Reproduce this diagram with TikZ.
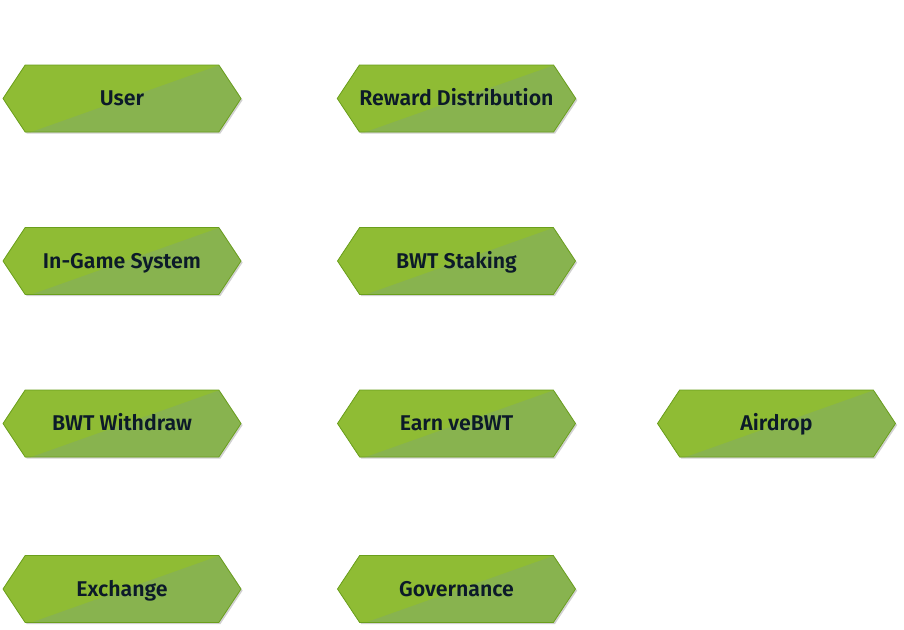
\documentclass[tikz,border=0pt]{standalone}
\usepackage{fontspec}
\setmainfont{Fira Sans}[BoldFont={Fira Sans SemiBold}]
\usetikzlibrary{shapes.symbols,shadows,calc}
\definecolor{hexA}{HTML}{8FBC34}
\definecolor{hexB}{HTML}{88B34F}
\definecolor{hexEdge}{HTML}{6A9F1C}
\definecolor{hexText}{HTML}{0C1A29}
\tikzset{
  hexbox/.style={
    shape=signal, signal to=west and east, signal pointer angle=113,
    minimum width=178.5pt, minimum height=50.25pt, inner sep=0pt,
    text height=12pt, text depth=1.5pt,
    draw=hexEdge, line width=0.6pt, fill=hexB,
    drop shadow={shadow xshift=1.2pt, shadow yshift=-1.2pt, opacity=0.18, fill=black},
    text=hexText, font=\fontsize{16}{19}\selectfont\bfseries,
    path picture={
      \fill[hexA] (path picture bounding box.south west) -- ($(path picture bounding box.south west)+(21pt,0)$)
        -- ([xshift=-16pt]path picture bounding box.north east) -- (path picture bounding box.north west) -- cycle;
    }
  }
}
\begin{document}
\begin{tikzpicture}[x=0.75pt,y=-0.75pt]
\useasboundingbox (0,0) rectangle (904,629);
\node[hexbox] (user) at (122,98.5) {User};
\node[hexbox] (reward) at (456.5,98.5) {Reward Distribution};
\node[hexbox] (ingame) at (122,261) {In-Game System};
\node[hexbox] (staking) at (456.5,261) {BWT Staking};
\node[hexbox] (withdraw) at (122,423.5) {BWT Withdraw};
\node[hexbox] (earn) at (456.5,423.5) {Earn veBWT};
\node[hexbox] (airdrop) at (776.5,423.5) {Airdrop};
\node[hexbox] (exchange) at (122,589) {Exchange};
\node[hexbox] (gov) at (456.5,589) {Governance};
\end{tikzpicture}
\end{document}
